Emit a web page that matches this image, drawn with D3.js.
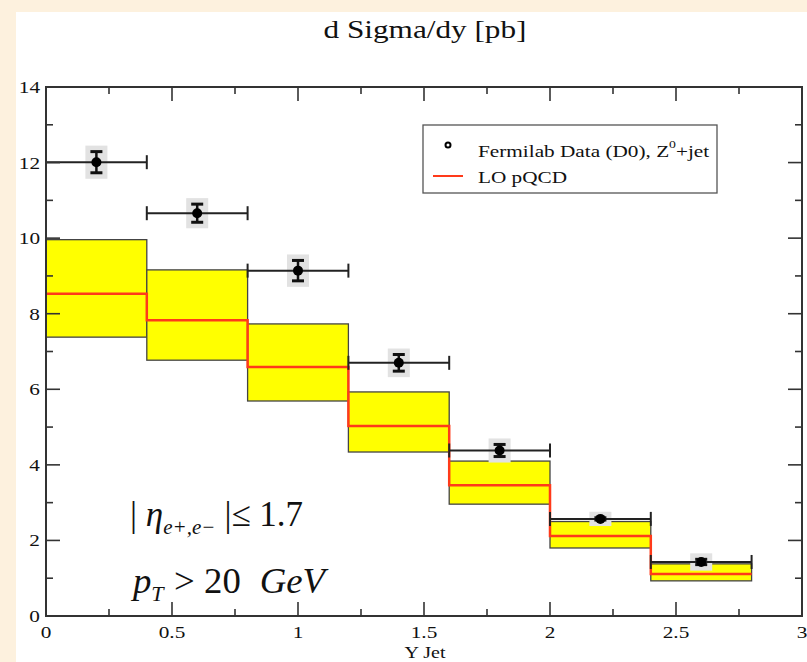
<!DOCTYPE html>
<html>
<head>
<script src="https://cdn.jsdelivr.net/npm/d3@7"></script>
<style>
  body { margin:0; background:#fdf1de; }
  svg { display:block; }
  text { font-family:"Liberation Serif","Times New Roman",serif; fill:#111; }
</style>
</head>
<body>
<svg id="chart"></svg>
<script>
// bins in Y Jet
var binLo = [0, 0.4, 0.8, 1.2, 1.6, 2.0, 2.4];
var binHi = [0.4, 0.8, 1.2, 1.6, 2.0, 2.4, 2.8];
// LO pQCD central value and band
var theory = [8.53, 7.83, 6.59, 5.03, 3.46, 2.12, 1.11];
var bandLow = [7.38, 6.77, 5.69, 4.34, 2.96, 1.80, 0.93];
var bandHigh = [9.96, 9.16, 7.73, 5.93, 4.10, 2.50, 1.38];
// Fermilab D0 data
var dataX = [0.2, 0.6, 1.0, 1.4, 1.8, 2.2, 2.6];
var dataY = [12.01, 10.66, 9.14, 6.70, 4.38, 2.57, 1.43];
var dataErr = [0.28, 0.24, 0.27, 0.22, 0.16, 0.03, 0.07];
var xTicks = [0, 0.5, 1, 1.5, 2, 2.5, 3];
var yTicks = [0, 2, 4, 6, 8, 10, 12, 14];

var W = 807, H = 662;
var SX = 1.25; // the picture is stretched sideways
var svg = d3.select("#chart").attr("width", W).attr("height", H);

// white page area inside the parchment strips
svg.append("rect").attr("x", 16).attr("y", 12).attr("width", W - 16).attr("height", H - 12).attr("fill", "#fff");

var pl = 46, pr = 802, pt = 87, pb = 616;
var x = d3.scaleLinear().domain([0, 3]).range([pl, pr]);
var y = d3.scaleLinear().domain([0, 14]).range([pb, pt]);

function label(px, py, size, anchor, sx) {
  return svg.append("g")
    .attr("transform", "translate(" + px + "," + py + ") scale(" + (sx || SX) + ",1)")
    .append("text").attr("font-size", size).attr("text-anchor", anchor || "start");
}

// yellow band
var g = svg.append("g");
binLo.forEach(function(lo, i) {
  g.append("rect")
    .attr("x", x(lo)).attr("y", y(bandHigh[i]))
    .attr("width", x(binHi[i]) - x(lo))
    .attr("height", y(bandLow[i]) - y(bandHigh[i]))
    .attr("fill", "#ffff00").attr("stroke", "#444").attr("stroke-width", 1.3);
});

// red step line
var steps = [];
binLo.forEach(function(lo, i) {
  steps.push([lo, theory[i]]);
  steps.push([binHi[i], theory[i]]);
});
g.append("path")
  .attr("d", d3.line().x(function(d){ return x(d[0]); }).y(function(d){ return y(d[1]); })(steps))
  .attr("fill", "none").attr("stroke", "#ff3a1a").attr("stroke-width", 2.5);

// data points
dataX.forEach(function(dx, i) {
  var cx = x(dx), cy = y(dataY[i]);
  var yt = y(dataY[i] + dataErr[i]), yb = y(dataY[i] - dataErr[i]);
  g.append("rect")
    .attr("x", cx - 11).attr("y", yt - 6)
    .attr("width", 22).attr("height", yb - yt + 12)
    .attr("fill", "#e2e2e2");
  g.append("line").attr("x1", x(binLo[i])).attr("x2", x(binHi[i])).attr("y1", cy).attr("y2", cy)
    .attr("stroke", "#222").attr("stroke-width", 2);
  [binLo[i], binHi[i]].forEach(function(e) {
    if (e === 0) return;
    g.append("line").attr("x1", x(e)).attr("x2", x(e)).attr("y1", cy - 7).attr("y2", cy + 7)
      .attr("stroke", "#222").attr("stroke-width", 2);
  });
  g.append("line").attr("x1", cx).attr("x2", cx).attr("y1", yt).attr("y2", yb)
    .attr("stroke", "#111").attr("stroke-width", 2.5);
  [yt, yb].forEach(function(v) {
    g.append("line").attr("x1", cx - 6).attr("x2", cx + 6).attr("y1", v).attr("y2", v)
      .attr("stroke", "#111").attr("stroke-width", 3);
  });
  g.append("circle").attr("cx", cx).attr("cy", cy).attr("r", 5).attr("fill", "#000");
});

// frame and ticks
var ax = svg.append("g").attr("stroke", "#333").attr("stroke-width", 1.6);
ax.append("rect").attr("x", pl).attr("y", pt).attr("width", pr - pl).attr("height", pb - pt)
  .attr("fill", "none").attr("stroke-width", 2);
d3.range(0, 3.001, 0.25).forEach(function(v) {
  var len = (Math.abs(v * 2 - Math.round(v * 2)) < 1e-6) ? 14 : 7;
  if (v === 0 || v === 3) return;
  ax.append("line").attr("x1", x(v)).attr("x2", x(v)).attr("y1", pb).attr("y2", pb - len);
  ax.append("line").attr("x1", x(v)).attr("x2", x(v)).attr("y1", pt).attr("y2", pt + len);
});
d3.range(0, 14.001, 1).forEach(function(v) {
  var len = (v % 2 === 0) ? 14 : 7;
  if (v === 0 || v === 14) return;
  ax.append("line").attr("x1", pl).attr("x2", pl + len).attr("y1", y(v)).attr("y2", y(v));
  ax.append("line").attr("x1", pr).attr("x2", pr - len).attr("y1", y(v)).attr("y2", y(v));
});

xTicks.forEach(function(d) { label(x(d), pb + 22, 17, "middle").text(d); });
yTicks.forEach(function(d) { label(pl - 6, y(d) + 6, 17, "end").text(d); });

label(425, 38, 25, "middle").text("d Sigma/dy [pb]");
label(425, 658, 16, "middle").text("Y Jet");

// legend
var lg = svg.append("g");
lg.append("rect").attr("x", 423).attr("y", 125).attr("width", 294).attr("height", 68)
  .attr("fill", "#fff").attr("stroke", "#555").attr("stroke-width", 1.3);
lg.append("circle").attr("cx", 448).attr("cy", 145).attr("r", 2.5)
  .attr("fill", "#fff").attr("stroke", "#000").attr("stroke-width", 2);
var t1 = label(478, 157, 17);
t1.append("tspan").text("Fermilab Data (D0), Z");
t1.append("tspan").attr("dy", -9).attr("font-size", 11).text("0");
t1.append("tspan").attr("dy", 9).text("+jet");
lg.append("line").attr("x1", 433).attr("x2", 463).attr("y1", 176).attr("y2", 176)
  .attr("stroke", "#ff3a1a").attr("stroke-width", 2);
label(478, 183, 17).text("LO pQCD");

// annotations
var a1 = label(130, 526, 35, "start", 1.0);
a1.append("tspan").text("| ");
a1.append("tspan").attr("font-style", "italic").text("η");
a1.append("tspan").attr("font-style", "italic").attr("font-size", 21).attr("dy", 8).text("e+,e−");
a1.append("tspan").attr("dy", -8).attr("dx", 9).text("|≤ 1.7");
var a2 = label(133, 593, 35, "start", 1.05);
a2.append("tspan").attr("font-style", "italic").text("p");
a2.append("tspan").attr("font-style", "italic").attr("font-size", 21).attr("dy", 8).text("T");
a2.append("tspan").attr("dy", -8).attr("dx", 10).text("> 20");
a2.append("tspan").attr("dx", 18).attr("font-style", "italic").text("GeV");
</script>
</body>
</html>
